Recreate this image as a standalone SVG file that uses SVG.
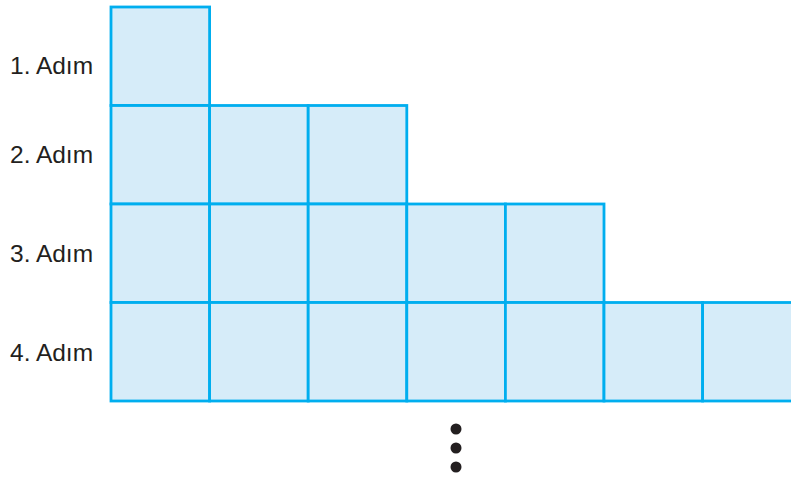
<svg xmlns="http://www.w3.org/2000/svg" width="791" height="479" viewBox="0 0 791 479">
<style>
.c{fill:#D6ECF9;stroke:#00AEEF;stroke-width:2.8}
.t{font-family:"Liberation Sans",Arial,sans-serif;font-size:24.5px;fill:#231F20}
.d{fill:#231F20}
</style>
<rect width="791" height="479" fill="#fff"/>
<g id="labels">
<text class="t" x="10" y="74">1. Adım</text>
<text class="t" x="10" y="163">2. Adım</text>
<text class="t" x="10" y="262">3. Adım</text>
<text class="t" x="10" y="361">4. Adım</text>
</g>
<g id="step1">
<rect class="c" x="111" y="7" width="98.6" height="98.5"/>
</g>
<g id="step2">
<rect class="c" x="111" y="105.5" width="98.6" height="98.5"/>
<rect class="c" x="209.6" y="105.5" width="98.6" height="98.5"/>
<rect class="c" x="308.2" y="105.5" width="98.6" height="98.5"/>
</g>
<g id="step3">
<rect class="c" x="111" y="204" width="98.6" height="98.5"/>
<rect class="c" x="209.6" y="204" width="98.6" height="98.5"/>
<rect class="c" x="308.2" y="204" width="98.6" height="98.5"/>
<rect class="c" x="406.8" y="204" width="98.6" height="98.5"/>
<rect class="c" x="505.4" y="204" width="98.6" height="98.5"/>
</g>
<g id="step4">
<rect class="c" x="111" y="302.5" width="98.6" height="98.5"/>
<rect class="c" x="209.6" y="302.5" width="98.6" height="98.5"/>
<rect class="c" x="308.2" y="302.5" width="98.6" height="98.5"/>
<rect class="c" x="406.8" y="302.5" width="98.6" height="98.5"/>
<rect class="c" x="505.4" y="302.5" width="98.6" height="98.5"/>
<rect class="c" x="604" y="302.5" width="98.6" height="98.5"/>
<rect class="c" x="702.6" y="302.5" width="98.6" height="98.5"/>
</g>
<g id="dots">
<circle class="d" cx="456" cy="429" r="5.5"/>
<circle class="d" cx="456" cy="448" r="5.5"/>
<circle class="d" cx="456" cy="467" r="5.5"/>
</g>
</svg>
